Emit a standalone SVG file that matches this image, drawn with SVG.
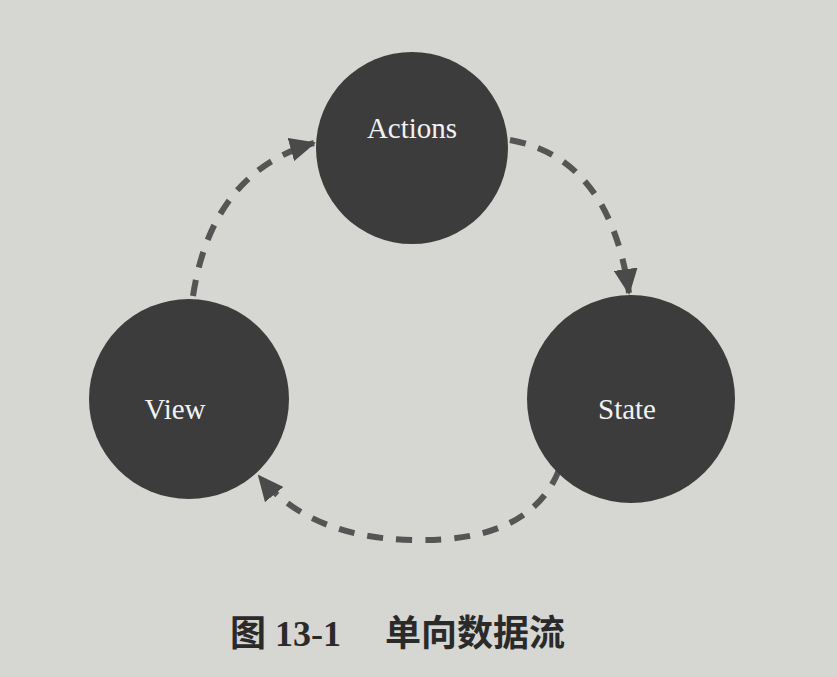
<svg xmlns="http://www.w3.org/2000/svg" width="837" height="677" viewBox="0 0 837 677">
<style>
.node{fill:#3c3c3c;}
.lbl{font-family:"Liberation Serif","Times New Roman",serif;font-size:29px;fill:#f2f2f2;text-anchor:middle;}
.edge{fill:none;stroke:#555;stroke-width:6;stroke-dasharray:16 13;marker-end:url(#ah);}
.cap{font-family:"Liberation Serif","Noto Sans CJK SC",serif;font-size:36px;font-weight:bold;fill:#2a2a2a;}
</style>
<defs>
<marker id="ah" markerUnits="userSpaceOnUse" markerWidth="26" markerHeight="24" refX="24" refY="12" orient="auto">
<path d="M0,0 L26,12 L0,24 Z" fill="#4a4a4a"/>
</marker>
</defs>
<rect width="837" height="677" fill="#d6d6d2"/>
<g id="connectors">
<path class="edge" d="M193,296 Q212,172 314,143"/>
<path class="edge" d="M510,140 Q610,158 629,293"/>
<path class="edge" d="M559,470 Q530,543 412,540 Q310,538 259,476"/>
</g>
<g id="actions"><circle class="node" cx="412" cy="148" r="96"/><text class="lbl" x="412" y="138">Actions</text></g>
<g id="view"><circle class="node" cx="189" cy="399" r="100"/><text class="lbl" x="175" y="419">View</text></g>
<g id="state"><circle class="node" cx="631" cy="399" r="104"/><text class="lbl" x="627" y="419">State</text></g>
<g id="caption"><text class="cap" x="230" y="646">图 13-1<tspan x="385">单向数据流</tspan></text></g>
</svg>
